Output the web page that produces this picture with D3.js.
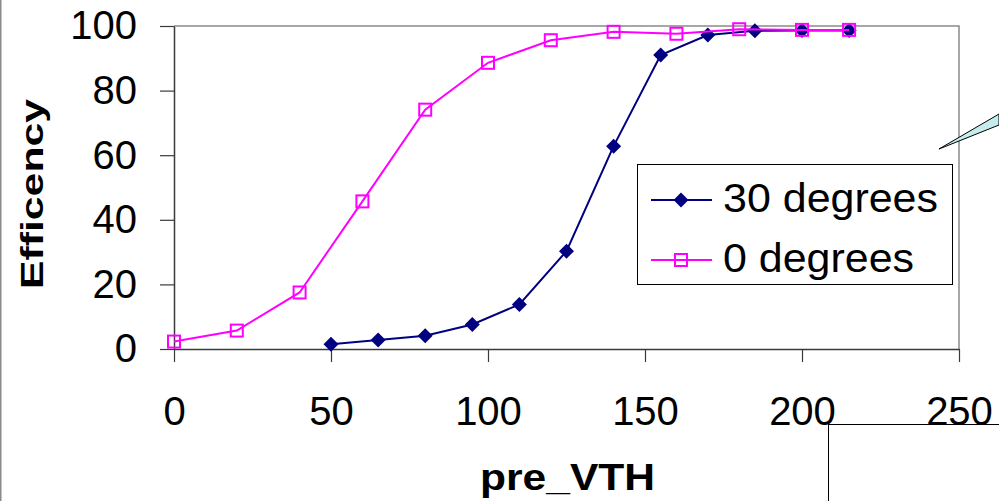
<!DOCTYPE html>
<html>
<head>
<meta charset="utf-8">
<script src="https://cdn.jsdelivr.net/npm/d3@7"></script>
<style>
  html, body { margin: 0; padding: 0; background: #fff; }
  svg { display: block; font-family: "Liberation Sans", Arial, sans-serif; }
</style>
</head>
<body>
<svg id="chart" width="999" height="501"></svg>
<script>
// ---- data ----
const seriesNames = ["30 degrees", "0 degrees"];
const x30 = [50, 65, 80, 95, 110, 125, 140, 155, 170, 185, 200, 215];
const y30 = [1.5, 2.8, 4.1, 7.6, 13.8, 30.3, 62.8, 91.0, 97.2, 98.5, 98.6, 98.6];
const x0 = [0, 20, 40, 60, 80, 100, 120, 140, 160, 180, 200, 215];
const y0 = [2.3, 5.7, 17.5, 45.7, 74.1, 88.6, 95.6, 98.2, 97.6, 99.0, 98.8, 98.8];
const xTicks = [0, 50, 100, 150, 200, 250];
const yTicks = [0, 20, 40, 60, 80, 100];
const xTitle = "pre_VTH";
const yTitle = "Efficency";

// ---- layout ----
const svg = d3.select("#chart");
const L = 174, R = 959, T = 26, B = 349;
const x = d3.scaleLinear().domain([0, 250]).range([L, R]);
const y = d3.scaleLinear().domain([0, 100]).range([B, T]);
const navy = "#000080", magenta = "#FF00FF";

// page left border
svg.append("line").attr("x1", 0.75).attr("x2", 0.75).attr("y1", 0).attr("y2", 501)
  .attr("stroke", "#8a8a8a").attr("stroke-width", 1.5);

// plot frame top & right (grey)
svg.append("path").attr("d", `M${L},${T}H${R}V${B}`)
  .attr("fill", "none").attr("stroke", "#8a8a8a").attr("stroke-width", 1.5);

// axes
const yAxis = d3.axisLeft(y).tickValues(yTicks).tickSize(14).tickSizeOuter(0).tickPadding(23);
const gy = svg.append("g").attr("transform", `translate(${L},0)`).call(yAxis);
const xAxis = d3.axisBottom(x).tickValues(xTicks).tickSize(13).tickSizeOuter(0).tickPadding(35);
const gx = svg.append("g").attr("transform", `translate(0,${B})`).call(xAxis);
[gx, gy].forEach(g => {
  g.select(".domain").attr("stroke", "#3a3a3a").attr("stroke-width", 1.5);
  g.selectAll(".tick line").attr("stroke", "#3a3a3a").attr("stroke-width", 1.2);
  g.selectAll(".tick text").attr("font-family", "'Liberation Sans', Arial, sans-serif")
    .attr("font-size", 40).attr("fill", "#000");
});

// series
const s30 = x30.map((v, i) => [v, y30[i]]);
const s0 = x0.map((v, i) => [v, y0[i]]);
const line = d3.line().x(d => x(d[0])).y(d => y(d[1]));
const diamond = "M0,-7.5L7.5,0L0,7.5L-7.5,0Z";

svg.append("path").datum(s30).attr("d", line)
  .attr("fill", "none").attr("stroke", navy).attr("stroke-width", 2);
svg.append("g").selectAll("path").data(s30).join("path")
  .attr("d", diamond).attr("transform", d => `translate(${x(d[0])},${y(d[1])})`)
  .attr("fill", navy);

svg.append("path").datum(s0).attr("d", line)
  .attr("fill", "none").attr("stroke", magenta).attr("stroke-width", 2);
svg.append("g").selectAll("rect").data(s0).join("rect")
  .attr("x", d => x(d[0]) - 6).attr("y", d => y(d[1]) - 6)
  .attr("width", 12).attr("height", 12)
  .attr("fill", "none").attr("stroke", magenta).attr("stroke-width", 2);

// axis titles
svg.append("text").text(xTitle)
  .attr("x", 567.5).attr("y", 489.5).attr("text-anchor", "middle")
  .attr("font-size", 37).attr("font-weight", "bold")
  .attr("textLength", 175).attr("lengthAdjust", "spacingAndGlyphs");
svg.append("text").text(yTitle)
  .attr("transform", "translate(43,194) rotate(-90)")
  .attr("text-anchor", "middle")
  .attr("font-size", 31).attr("font-weight", "bold")
  .attr("textLength", 190).attr("lengthAdjust", "spacingAndGlyphs");

// legend
const lg = svg.append("g");
lg.append("rect").attr("x", 637.5).attr("y", 164.5).attr("width", 315).attr("height", 120)
  .attr("fill", "#fff").attr("stroke", "#000").attr("stroke-width", 1);
const legendRows = [
  { name: seriesNames[0], color: navy, ly: 200, tl: 215, marker: "diamond" },
  { name: seriesNames[1], color: magenta, ly: 260, tl: 191, marker: "square" }
];
legendRows.forEach(r => {
  lg.append("line").attr("x1", 651).attr("x2", 712).attr("y1", r.ly).attr("y2", r.ly)
    .attr("stroke", r.color).attr("stroke-width", 2);
  if (r.marker === "diamond") {
    lg.append("path").attr("d", diamond).attr("transform", `translate(681,${r.ly})`).attr("fill", r.color);
  } else {
    lg.append("rect").attr("x", 681 - 6).attr("y", r.ly - 6).attr("width", 12).attr("height", 12)
      .attr("fill", "none").attr("stroke", r.color).attr("stroke-width", 2);
  }
  lg.append("text").text(r.name).attr("x", 723).attr("y", r.ly + 12)
    .attr("font-size", 40).attr("textLength", r.tl).attr("lengthAdjust", "spacingAndGlyphs");
});

// callout pointer (partially visible)
svg.append("polygon").attr("points", "939,149 999,114 999,125")
  .attr("fill", "#c6ebeb").attr("stroke", "#000").attr("stroke-width", 1);

// overlapping box at bottom right
svg.append("rect").attr("x", 828.5).attr("y", 424.5).attr("width", 200).attr("height", 100)
  .attr("fill", "#fff").attr("stroke", "#000").attr("stroke-width", 1);
</script>
</body>
</html>
